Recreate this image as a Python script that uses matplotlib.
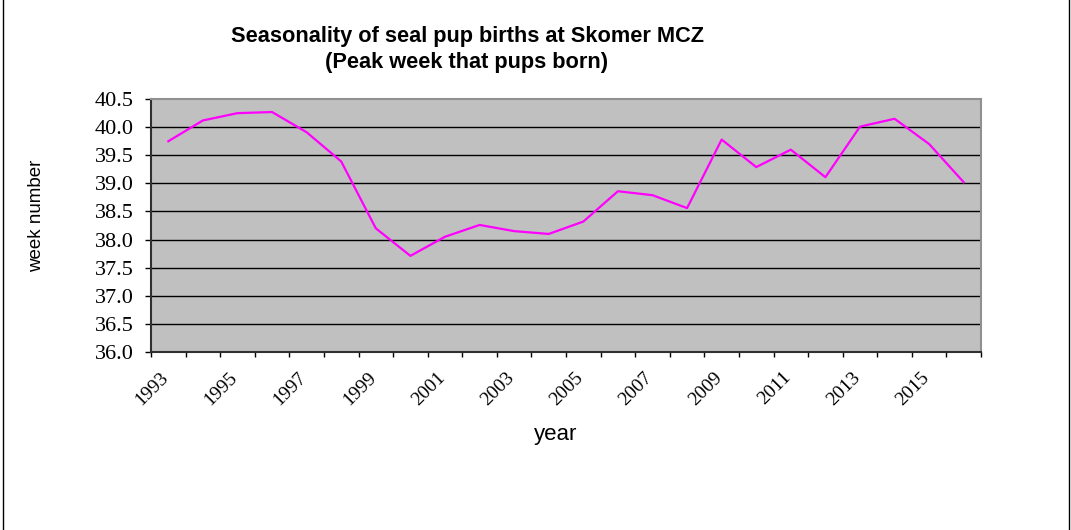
import matplotlib
matplotlib.use("Agg")
import matplotlib.pyplot as plt
from matplotlib.lines import Line2D
import matplotlib.transforms as mtransforms
import numpy as np

years = list(range(1993, 2017))
peak_week = [39.75, 40.12, 40.25, 40.27, 39.91, 39.39, 38.20, 37.71, 38.05, 38.26,
             38.15, 38.10, 38.32, 38.86, 38.79, 38.56, 39.78, 39.29, 39.60, 39.11,
             40.01, 40.15, 39.70, 39.02]
y_ticks = [36.0, 36.5, 37.0, 37.5, 38.0, 38.5, 39.0, 39.5, 40.0, 40.5]
x_labels = [str(y) if (y - 1993) % 2 == 0 else "" for y in years]

fig = plt.figure(figsize=(10.71, 5.30), dpi=100)
ax = fig.add_axes([0.141, 0.336, 0.775, 0.477])
ax.set_facecolor("#C0C0C0")

x = np.arange(len(years))
ax.plot(x, peak_week, color="#FF00FF", lw=1.6, zorder=3)

ax.set_xlim(-0.5, len(years) - 0.5)
ax.set_ylim(36.0, 40.5)
ax.set_yticks(y_ticks)
ax.set_yticklabels([f"{v:.1f}" for v in y_ticks], fontfamily="Liberation Serif", fontsize=16)
for v in y_ticks[1:-1]:
    ax.axhline(v, color="black", lw=1.0, zorder=1)

# category tick marks at boundaries, labels drawn at category centres
ax.set_xticks(np.arange(-0.5, len(years)))
ax.set_xticklabels([])
ax.tick_params(axis="x", which="major", length=3.8, width=1, direction="out")
ax.tick_params(axis="y", which="major", length=4.3, width=1, direction="out", pad=8)

label_tr = ax.get_xaxis_transform() + mtransforms.ScaledTranslation(-8.5 / 100, -17 / 100, fig.dpi_scale_trans)
for xi, lab in zip(x, x_labels):
    if lab:
        ax.text(xi, 0, lab, transform=label_tr, rotation=45, ha="right", va="top",
                rotation_mode="anchor", fontfamily="Liberation Serif", fontsize=14, clip_on=False)

ax.spines["left"].set_color("#303030")
ax.spines["bottom"].set_color("#303030")
ax.spines["top"].set_color("#909090")
ax.spines["right"].set_color("#909090")
for s in ax.spines.values():
    s.set_linewidth(1.5)

ax.set_ylabel("week number", fontfamily="Liberation Sans", fontsize=13.5, labelpad=0)
ax.yaxis.set_label_coords(-0.128, 0.54)
ax.set_xlabel("year", fontfamily="Liberation Sans", fontsize=16)
ax.xaxis.set_label_coords(0.487, -0.285)

fig.text(0.4365, 1 - 42 / 530, "Seasonality of seal pup births at Skomer MCZ", ha="center", va="baseline",
         fontfamily="Liberation Sans", fontweight="bold", fontsize=15.7)
fig.text(0.436, 1 - 68 / 530, "(Peak week that pups born)", ha="center", va="baseline",
         fontfamily="Liberation Sans", fontweight="bold", fontsize=15.7)

fig.add_artist(Line2D([0.0025, 0.0025], [0, 1], transform=fig.transFigure, color="black", lw=1))
fig.add_artist(Line2D([0.9985, 0.9985], [0, 1], transform=fig.transFigure, color="black", lw=1))

fig.savefig("out.png", dpi=100)
